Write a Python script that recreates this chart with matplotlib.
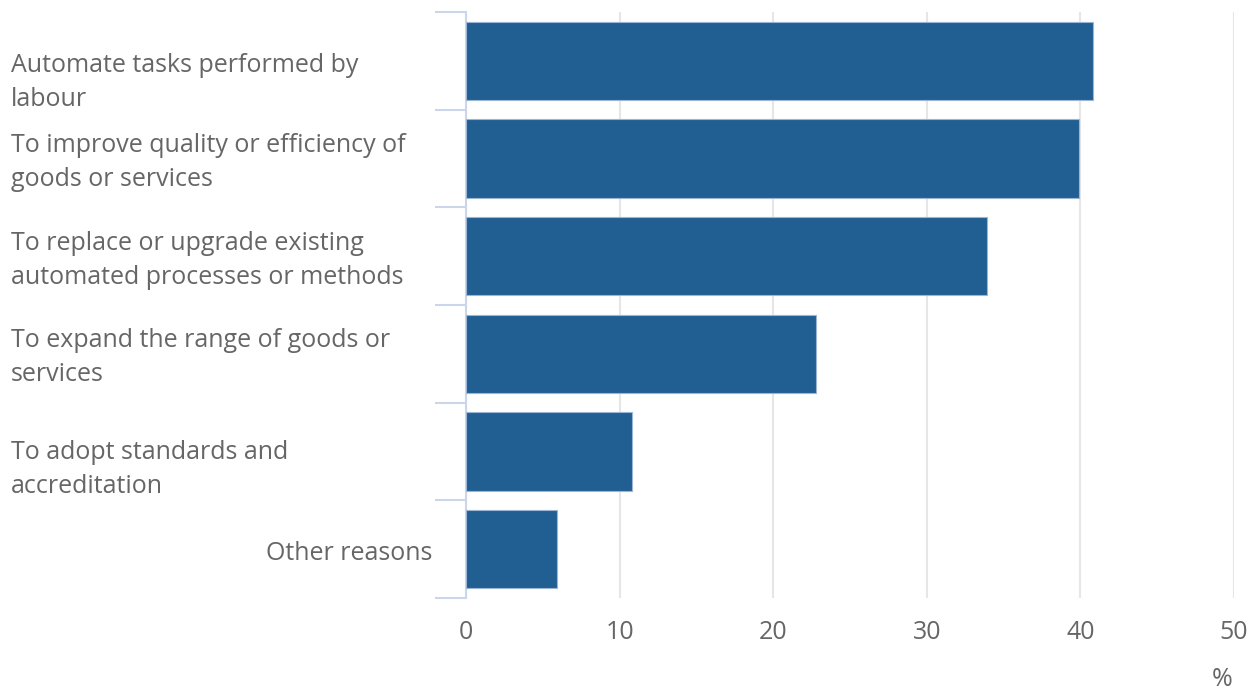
import matplotlib
matplotlib.use('Agg')
import matplotlib.pyplot as plt
import matplotlib.transforms as mtransforms

# data
labels = ["Automate tasks performed by\nlabour",
          "To improve quality or efficiency of\ngoods or services",
          "To replace or upgrade existing\nautomated processes or methods",
          "To expand the range of goods or\nservices",
          "To adopt standards and\naccreditation",
          "Other reasons"]
values = [40.8, 39.9, 33.9, 22.8, 10.8, 5.9]
xticks = [0, 10, 20, 30, 40, 50]

plt.rcParams['font.family'] = ['Open Sans', 'DejaVu Sans']
txt_col = '#666666'
fs = 18

fig = plt.figure(figsize=(12.57, 6.90), dpi=100)
ax = fig.add_axes([466/1257, 1-598/690, (1234-466)/1257, (598-12)/690])

ypos = list(range(len(values)))
ax.barh(ypos, values, height=0.8, color='#215f93', edgecolor='#9db5d4', linewidth=0.8, zorder=3)
ax.set_ylim(len(values)-0.5, -0.5)
ax.set_xlim(0, 50)

#grid and axis styling, highcharts look
ax.set_xticks(xticks)
ax.set_xticklabels([str(t) for t in xticks], fontsize=fs, color=txt_col)
ax.tick_params(axis='x', length=0, pad=16)
ax.xaxis.grid(True, color='#e6e6e6', linewidth=1.5, zorder=0)
ax.set_yticks([i-0.5 for i in range(len(values)+1)])
ax.set_yticklabels([])
ax.tick_params(axis='y', length=22, width=1.5, color='#ccd6eb')
for s in ['top', 'right', 'bottom']:
    ax.spines[s].set_visible(False)
ax.spines['left'].set_color('#ccd6eb')
ax.spines['left'].set_linewidth(1.5)

#category labels, left aligned like the original except the one-liner
#(first and fifth labels sit a bit low in the original)
nudge = {0: 0.18, 4: 0.14}
trans = mtransforms.blended_transform_factory(fig.transFigure, ax.transData)
for i, lab in enumerate(labels):
    yy = i + 0.04 + nudge.get(i, 0)
    if '\n' in lab:
        ax.text(11/1257, yy, lab, transform=trans, ha='left', va='center',
                fontsize=fs, color=txt_col, linespacing=1.47)
    else:
        ax.text(432/1257, yy, lab, transform=trans, ha='right', va='center',
                fontsize=fs, color=txt_col)

fig.text(1222/1257, 1-679/690, '%', ha='center', va='center', fontsize=fs, color=txt_col)

plt.savefig('out.png', dpi=100)
